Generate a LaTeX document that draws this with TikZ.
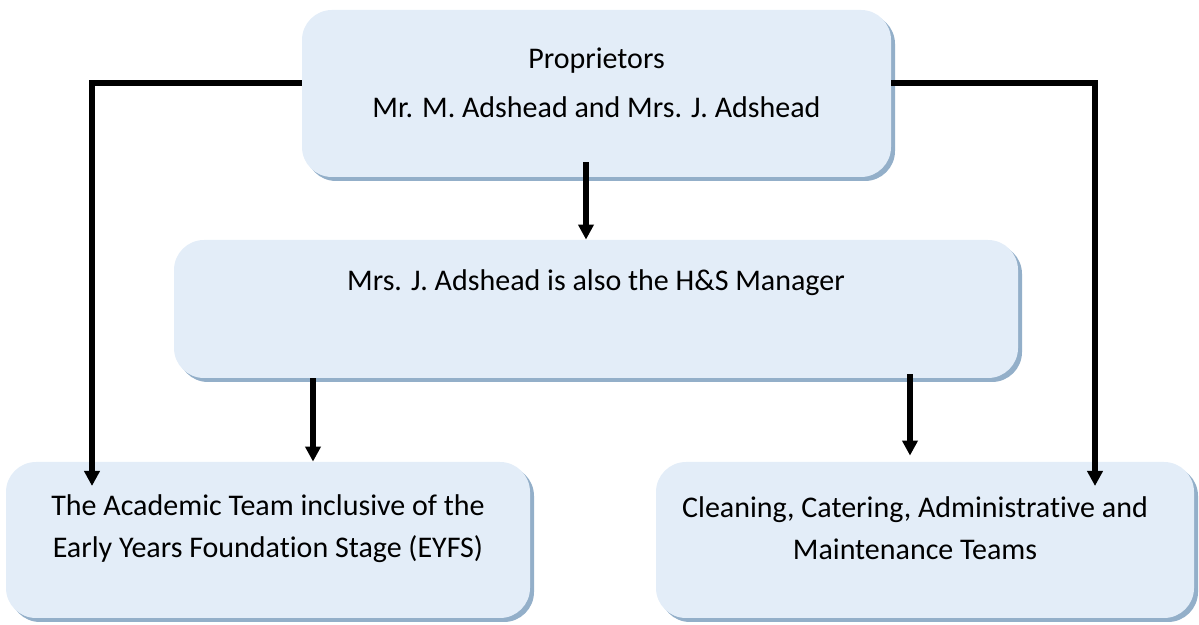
\documentclass[tikz,border=0pt]{standalone}
\usepackage{fontspec}
\setmainfont{Carlito}[Ligatures=NoCommon]
\usepackage{tikz}
\usetikzlibrary{shadows}
\usetikzlibrary{arrows.meta}

\definecolor{boxblue}{HTML}{E3EDF8}
\definecolor{shadowblue}{HTML}{93AFC9}

\tikzset{
  teambox/.style={rectangle, rounded corners=15pt, fill=boxblue, inner sep=0pt,
    drop shadow={shadow xshift=2pt, shadow yshift=-2pt, fill=shadowblue, opacity=1}},
  boxtext/.style={align=center, font=\fontsize{15pt}{21pt}\selectfont},
  arrowline/.style={line width=2.6pt, -{Triangle[width=7.5pt,length=7.5pt]}}
}

\begin{document}
\begin{tikzpicture}
			\useasboundingbox (0,0) rectangle (599.5pt,312.5pt);
			% boxes
			\node at (298.25pt,265.75pt) [teambox, minimum width=294.5pt, minimum height=83.5pt] (owners) {};
			\node at (298pt,158pt) [teambox, minimum width=422pt, minimum height=69pt] (hsman) {};
			\node at (134pt,42.5pt) [teambox, minimum width=262pt, minimum height=78pt] (academic) {};
			\node at (462.5pt,42.5pt) [teambox, minimum width=269pt, minimum height=78pt] (support) {};
			% texts
			\node at ([yshift=-25.5pt]owners.north) [boxtext] (ownerstitle) {Proprietors};
			\node at ([yshift=-49pt]owners.north) [boxtext] (ownersnames) {Mr. M. Adshead and Mrs. J. Adshead};
			\node at ([yshift=-21.5pt]hsman.north) [boxtext] (hsmantext) {Mrs. J. Adshead is also the H\&S Manager};
			\node at ([yshift=-33.5pt]academic.north) [boxtext] (academictext) {The Academic Team inclusive of the\\Early Years Foundation Stage (EYFS)};
			\node at ([xshift=-5pt, yshift=-33.5pt]support.north) [boxtext] (supporttext) {Cleaning, Catering, Administrative and\\Maintenance Teams};
			% connectors
			\coordinate (downx) at (293pt,0);
			\coordinate (acadx) at (156.5pt,0);
			\coordinate (suppx) at (455pt,0);
			\coordinate (lturn) at (46pt,271pt);
			\coordinate (rturn) at (547.5pt,271pt);
			\coordinate (lend) at (46pt,69.5pt);
			\coordinate (rend) at (547.5pt,69.5pt);
			\draw [arrowline] ([yshift=7.5pt]owners.south -| downx) -- (hsman.north -| downx);
			\draw [arrowline] (hsman.south -| acadx) -- (academic.north -| acadx);
			\draw [arrowline] ([yshift=2pt]hsman.south -| suppx) -- ([yshift=3pt]support.north -| suppx);
			\draw [arrowline] (owners.west |- lturn) -- (lturn) -- (lend);
			\draw [arrowline] (owners.east |- rturn) -- (rturn) -- (rend);
		\end{tikzpicture}
\end{document}
